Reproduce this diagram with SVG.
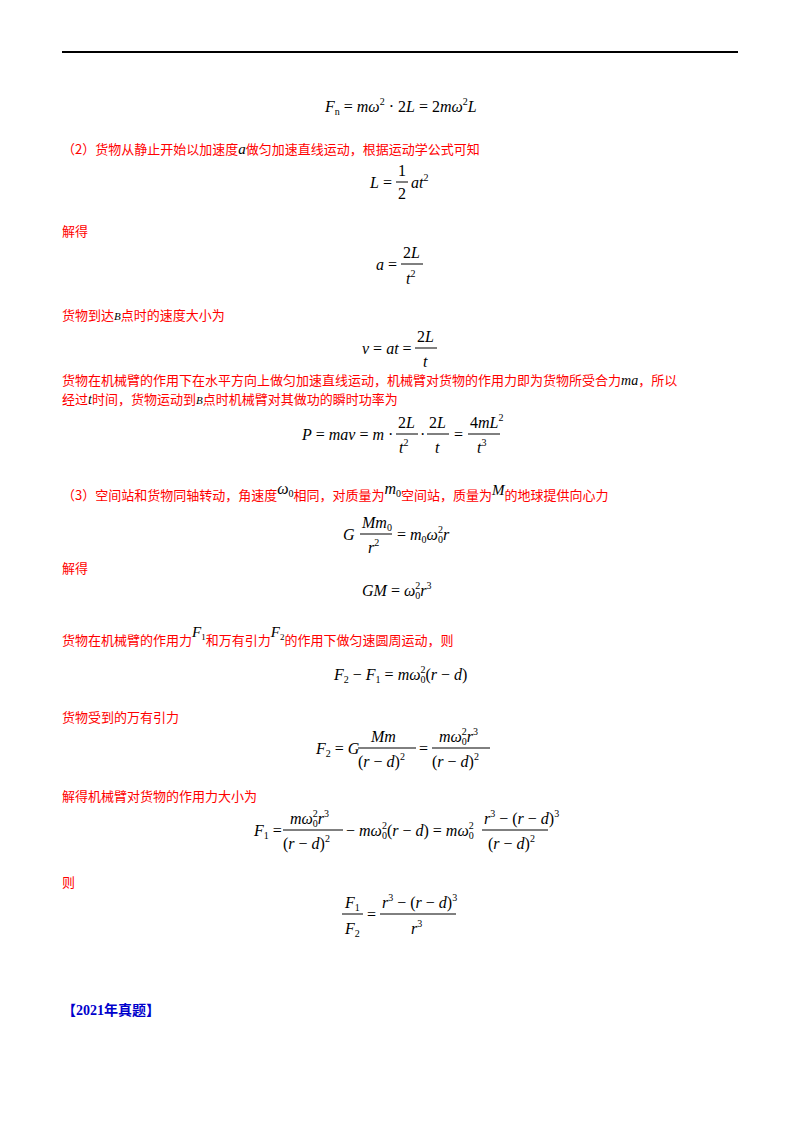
<svg xmlns="http://www.w3.org/2000/svg" width="800" height="1132" viewBox="0 0 800 1132">
<style>
.t{font-family:"Noto Sans CJK SC",sans-serif;font-size:13px;fill:#ff0000}
.m{font-family:"Liberation Serif",serif;font-size:16px;fill:#000}
.i{font-style:italic}
.s{font-size:10px;font-style:normal}
.f{stroke:#000;stroke-width:1}
.v{font-family:"Liberation Serif",serif;font-style:italic;fill:#000}
.n{font-family:"Liberation Serif",serif;font-style:normal;fill:#000}
</style>
<rect width="800" height="1132" fill="#fff"/>
<line x1="62" y1="52" x2="738" y2="52" stroke="#000" stroke-width="2"/>
<g id="eq1"><text class="m" x="325" y="112"><tspan class="i">F</tspan><tspan class="s" dy="3">n</tspan><tspan dy="-3"> = </tspan><tspan class="i">mω</tspan><tspan class="s" dy="-7">2</tspan><tspan dy="7"> · 2</tspan><tspan class="i">L</tspan> = 2<tspan class="i">mω</tspan><tspan class="s" dy="-7">2</tspan><tspan class="i" dy="7">L</tspan></text></g>
<g id="p2"><text class="t" x="62" y="154">（2）货物从静止开始以加速度<tspan class="v" font-size="15">a</tspan>做匀加速直线运动，根据运动学公式可知</text></g>
<g id="eq2"><text class="m" x="370" y="188"><tspan class="i">L</tspan> =</text><text class="m" x="398" y="176">1</text><line class="f" x1="396" y1="182" x2="408" y2="182"/><text class="m" x="398" y="199">2</text><text class="m i" x="411" y="188">at<tspan class="s" dy="-7">2</tspan></text></g>
<g id="p3"><text class="t" x="62" y="236">解得</text></g>
<g id="eq3"><text class="m" x="376" y="270"><tspan class="i">a</tspan> =</text><text class="m" x="403" y="258">2<tspan class="i">L</tspan></text><line class="f" x1="401" y1="264" x2="423" y2="264"/><text class="m i" x="406" y="284">t<tspan class="s" dy="-7">2</tspan></text></g>
<g id="p4"><text class="t" x="62" y="320">货物到达<tspan class="v" font-size="11">B</tspan>点时的速度大小为</text></g>
<g id="eq4"><text class="m" x="362" y="354"><tspan class="i">v</tspan> = <tspan class="i">at</tspan> =</text><text class="m" x="417" y="342">2<tspan class="i">L</tspan></text><line class="f" x1="415" y1="348" x2="437" y2="348"/><text class="m i" x="423" y="367">t</text></g>
<g id="p5"><text class="t" x="62" y="385">货物在机械臂的作用下在水平方向上做匀加速直线运动，机械臂对货物的作用力即为货物所受合力<tspan class="v" font-size="14">ma</tspan>，所以</text>
<text class="t" x="62" y="404">经过<tspan class="v" font-size="14">t</tspan>时间，货物运动到<tspan class="v" font-size="11">B</tspan>点时机械臂对其做功的瞬时功率为</text></g>
<g id="eq5"><text class="m" x="302" y="440"><tspan class="i">P</tspan> = <tspan class="i">mav</tspan> = <tspan class="i">m</tspan> ·</text>
<text class="m" x="398" y="428">2<tspan class="i">L</tspan></text><line class="f" x1="396" y1="434" x2="418" y2="434"/><text class="m i" x="399" y="453">t<tspan class="s" dy="-7">2</tspan></text>
<text class="m" x="420" y="440">·</text>
<text class="m" x="429" y="428">2<tspan class="i">L</tspan></text><line class="f" x1="427" y1="434" x2="449" y2="434"/><text class="m i" x="435" y="453">t</text>
<text class="m" x="454" y="440">=</text>
<text class="m" x="470" y="428">4<tspan class="i">mL</tspan><tspan class="s" dy="-7">2</tspan></text><line class="f" x1="468" y1="434" x2="500" y2="434"/><text class="m i" x="477" y="453">t<tspan class="s" dy="-7">3</tspan></text></g>
<g id="p6"><text class="t" x="62" y="500">（3）空间站和货物同轴转动，角速度<tspan class="v" font-size="16" dy="-6">ω</tspan><tspan class="n" font-size="10" dy="3">0</tspan><tspan dy="3">相同，对质量为</tspan><tspan class="v" font-size="16" dy="-6">m</tspan><tspan class="n" font-size="10" dy="3">0</tspan><tspan dy="3">空间站，质量为</tspan><tspan class="v" font-size="15" dy="-5">M</tspan><tspan dy="5">的地球提供向心力</tspan></text></g>
<g id="eq6"><text class="m i" x="343" y="540">G</text><text class="m i" x="362" y="528">Mm<tspan class="s" dy="3">0</tspan></text><line class="f" x1="360" y1="534" x2="392" y2="534"/><text class="m i" x="368" y="553">r<tspan class="s" dy="-7">2</tspan></text><text class="m" x="397" y="540">= <tspan class="i">m</tspan><tspan class="s" dy="3">0</tspan><tspan class="i" dy="-3">ω</tspan><tspan class="s" dy="-7">2</tspan><tspan class="s" dx="-5" dy="10">0</tspan><tspan class="i" dy="-3">r</tspan></text></g>
<g id="p7"><text class="t" x="62" y="573">解得</text></g>
<g id="eq7"><text class="m" x="362" y="596"><tspan class="i">GM</tspan> = <tspan class="i">ω</tspan><tspan class="s" dy="-7">2</tspan><tspan class="s" dx="-5" dy="10">0</tspan><tspan class="i" dy="-3">r</tspan><tspan class="s" dy="-7">3</tspan></text></g>
<g id="p8"><text class="t" x="62" y="645">货物在机械臂的作用力<tspan class="v" font-size="15" dy="-8">F</tspan><tspan class="n" font-size="9" dy="3">1</tspan><tspan dy="5">和万有引力</tspan><tspan class="v" font-size="15" dy="-8">F</tspan><tspan class="n" font-size="9" dy="3">2</tspan><tspan dy="5">的作用下做匀速圆周运动，则</tspan></text></g>
<g id="eq8"><text class="m" x="334" y="680"><tspan class="i">F</tspan><tspan class="s" dy="3">2</tspan><tspan dy="-3"> − </tspan><tspan class="i">F</tspan><tspan class="s" dy="3">1</tspan><tspan dy="-3"> = </tspan><tspan class="i">mω</tspan><tspan class="s" dy="-7">2</tspan><tspan class="s" dx="-5" dy="10">0</tspan><tspan dy="-3">(</tspan><tspan class="i">r</tspan> − <tspan class="i">d</tspan>)</text></g>
<g id="p9"><text class="t" x="62" y="722">货物受到的万有引力</text></g>
<g id="eq9"><text class="m" x="316" y="754"><tspan class="i">F</tspan><tspan class="s" dy="3">2</tspan><tspan dy="-3"> = </tspan><tspan class="i">G</tspan></text>
<text class="m i" x="371" y="742">Mm</text><line class="f" x1="358" y1="748" x2="416" y2="748"/><text class="m" x="358" y="767">(<tspan class="i">r</tspan> − <tspan class="i">d</tspan>)<tspan class="s" dy="-7">2</tspan></text>
<text class="m" x="419" y="754">=</text>
<text class="m i" x="439" y="742">mω<tspan class="s" dy="-7">2</tspan><tspan class="s" dx="-5" dy="10">0</tspan><tspan dy="-3">r</tspan><tspan class="s" dy="-7">3</tspan></text><line class="f" x1="432" y1="748" x2="490" y2="748"/><text class="m" x="432" y="767">(<tspan class="i">r</tspan> − <tspan class="i">d</tspan>)<tspan class="s" dy="-7">2</tspan></text></g>
<g id="p10"><text class="t" x="62" y="801">解得机械臂对货物的作用力大小为</text></g>
<g id="eq10"><text class="m" x="254" y="836"><tspan class="i">F</tspan><tspan class="s" dy="3">1</tspan><tspan dy="-3"> =</tspan></text>
<text class="m i" x="290" y="824">mω<tspan class="s" dy="-7">2</tspan><tspan class="s" dx="-5" dy="10">0</tspan><tspan dy="-3">r</tspan><tspan class="s" dy="-7">3</tspan></text><line class="f" x1="283" y1="830" x2="343" y2="830"/><text class="m" x="283" y="849">(<tspan class="i">r</tspan> − <tspan class="i">d</tspan>)<tspan class="s" dy="-7">2</tspan></text>
<text class="m" x="346" y="836">− <tspan class="i">mω</tspan><tspan class="s" dy="-7">2</tspan><tspan class="s" dx="-5" dy="10">0</tspan><tspan dy="-3">(</tspan><tspan class="i">r</tspan> − <tspan class="i">d</tspan>) = <tspan class="i">mω</tspan><tspan class="s" dy="-7">2</tspan><tspan class="s" dx="-5" dy="10">0</tspan></text>
<text class="m" x="484" y="824"><tspan class="i">r</tspan><tspan class="s" dy="-7">3</tspan><tspan dy="7"> − (</tspan><tspan class="i">r</tspan> − <tspan class="i">d</tspan>)<tspan class="s" dy="-7">3</tspan></text><line class="f" x1="482" y1="830" x2="548" y2="830"/><text class="m" x="488" y="849">(<tspan class="i">r</tspan> − <tspan class="i">d</tspan>)<tspan class="s" dy="-7">2</tspan></text></g>
<g id="p11"><text class="t" x="62" y="887">则</text></g>
<g id="eq11"><text class="m i" x="345" y="908">F<tspan class="s" dy="3">1</tspan></text><line class="f" x1="342" y1="914" x2="363" y2="914"/><text class="m i" x="345" y="934">F<tspan class="s" dy="3">2</tspan></text>
<text class="m" x="367" y="920">=</text>
<text class="m" x="382" y="908"><tspan class="i">r</tspan><tspan class="s" dy="-7">3</tspan><tspan dy="7"> − (</tspan><tspan class="i">r</tspan> − <tspan class="i">d</tspan>)<tspan class="s" dy="-7">3</tspan></text><line class="f" x1="380" y1="914" x2="456" y2="914"/><text class="m i" x="411" y="934">r<tspan class="s" dy="-7">3</tspan></text></g>
<g id="h"><text x="62" y="1015" font-family="Liberation Serif,'Noto Sans CJK SC',serif" font-size="14" font-weight="bold" fill="#0000cc">【2021年真题】</text></g>
</svg>
